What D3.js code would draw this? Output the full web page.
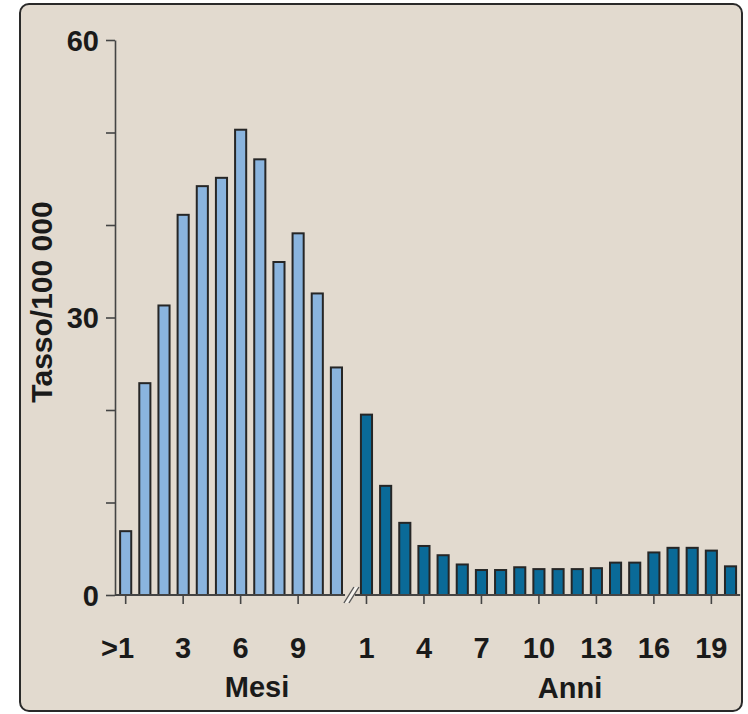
<!DOCTYPE html>
<html>
<head>
<meta charset="utf-8">
<script src="https://cdn.jsdelivr.net/npm/d3@7"></script>
<style>
  html, body { margin: 0; padding: 0; background: #ffffff; }
  svg { display: block; }
  text { font-family: "Liberation Sans", Arial, Helvetica, sans-serif; font-weight: bold; fill: #1a1a1a; }
</style>
</head>
<body>
<svg id="chart" width="748" height="714"></svg>
<script>
// ---- Data ----
const monthCategories = [0, 1, 2, 3, 4, 5, 6, 7, 8, 9, 10, 11];
const monthValues = [6.9, 22.9, 31.3, 41.1, 44.2, 45.1, 50.3, 47.1, 36.0, 39.1, 32.6, 24.6];
const monthTickValues = [0, 3, 6, 9];
const monthTickLabels = [">1", "3", "6", "9"];

const yearCategories = [1, 2, 3, 4, 5, 6, 7, 8, 9, 10, 11, 12, 13, 14, 15, 16, 17, 18, 19, 20];
const yearValues = [19.5, 11.8, 7.8, 5.3, 4.3, 3.3, 2.7, 2.7, 3.0, 2.8, 2.8, 2.8, 2.9, 3.5, 3.5, 4.6, 5.1, 5.1, 4.8, 3.1];
const yearTickValues = [1, 4, 7, 10, 13, 16, 19];
const yearTickLabels = ["1", "4", "7", "10", "13", "16", "19"];

const yTickValues = [0, 10, 20, 30, 40, 50, 60];
const yTickLabels = ["0", "", "", "30", "", "", "60"];

const yTitle = "Tasso/100 000";
const monthTitle = "Mesi";
const yearTitle = "Anni";

// ---- Layout ----
const svg = d3.select("#chart");
const bg = "#e2dacf";
const axisColor = "#444";
const fontSize = 29;

svg.append("rect")
  .attr("x", 20).attr("y", 4).attr("width", 722).attr("height", 707)
  .attr("rx", 9).attr("ry", 9)
  .attr("fill", bg).attr("stroke", "#2a2a2a").attr("stroke-width", 2);

const y = d3.scaleLinear().domain([0, 60]).range([595, 40]);
const xAxisX = 115;

const step = 19.16;
const xM = d3.scaleBand().domain(monthCategories)
  .range([116.1, 116.1 + monthCategories.length * step])
  .paddingInner(0.42).paddingOuter(0.21);
const xY = d3.scaleBand().domain(yearCategories)
  .range([356.9, 356.9 + yearCategories.length * step])
  .paddingInner(0.42).paddingOuter(0.21);

// Bars
svg.append("g").selectAll("rect")
  .data(monthCategories.map((c, i) => ({c, v: monthValues[i]})))
  .join("rect")
  .attr("x", d => xM(d.c))
  .attr("width", xM.bandwidth())
  .attr("y", d => y(d.v))
  .attr("height", d => y(0) - y(d.v))
  .attr("fill", "#8ab4de")
  .attr("stroke", "#262626").attr("stroke-width", 2);

svg.append("g").selectAll("rect")
  .data(yearCategories.map((c, i) => ({c, v: yearValues[i]})))
  .join("rect")
  .attr("x", d => xY(d.c))
  .attr("width", xY.bandwidth())
  .attr("y", d => y(d.v))
  .attr("height", d => y(0) - y(d.v))
  .attr("fill", "#0a6a98")
  .attr("stroke", "#262626").attr("stroke-width", 2);

// Y axis
const yAxis = d3.axisLeft(y).tickValues(yTickValues)
  .tickFormat((d, i) => yTickLabels[i]).tickSize(9).tickSizeOuter(0).tickPadding(7);
const gy = svg.append("g").attr("transform", `translate(${xAxisX},0)`).call(yAxis);
gy.select(".domain").attr("stroke", axisColor).attr("stroke-width", 1.6);
gy.selectAll(".tick line").attr("stroke", axisColor).attr("stroke-width", 1.6);
gy.selectAll(".tick text")
  .attr("font-size", fontSize).attr("font-family", null).attr("fill", "#1a1a1a")
  .attr("dy", "0.36em");

// X axes (months and years), with break
const base = y(0);
const mEnd = xM.range()[1];
const yStart = xY.range()[0];
svg.append("line").attr("x1", xAxisX).attr("x2", mEnd - 1).attr("y1", base).attr("y2", base)
  .attr("stroke", axisColor).attr("stroke-width", 1.8);
svg.append("line").attr("x1", yStart - 2).attr("x2", xY.range()[1]).attr("y1", base).attr("y2", base)
  .attr("stroke", axisColor).attr("stroke-width", 1.8);

// break marks
const bx = (mEnd + yStart) / 2;
svg.append("polygon")
  .attr("points", [[bx - 7, base + 8], [bx - 2, base + 8], [bx + 7, base - 8], [bx + 2, base - 8]].map(p => p.join(",")).join(" "))
  .attr("fill", "#f4f1ec");
[-2.5, 2.5].forEach(o => {
  svg.append("line")
    .attr("x1", bx - 5 + o).attr("y1", base + 8)
    .attr("x2", bx + 5 + o).attr("y2", base - 8)
    .attr("stroke", "#555").attr("stroke-width", 1.4);
});

function bottomTicks(scale, values, labels) {
  const ax = d3.axisBottom(scale).tickValues(values)
    .tickFormat((d, i) => labels[i]).tickSize(9).tickSizeOuter(0).tickPadding(33);
  const g = svg.append("g").attr("transform", `translate(0,${base})`).call(ax);
  g.select(".domain").remove();
  g.selectAll(".tick line").attr("stroke", axisColor).attr("stroke-width", 1.6);
  g.selectAll(".tick text")
    .attr("font-size", fontSize).attr("font-family", null).attr("fill", "#1a1a1a")
    .attr("dy", "0.71em")
    .each(function(d, i) {
      const t = labels[i];
      if (t.startsWith(">")) {
        d3.select(this).attr("text-anchor", "end").attr("x", 8.5);
      }
    });
  return g;
}
bottomTicks(xM, monthTickValues, monthTickLabels);
bottomTicks(xY, yearTickValues, yearTickLabels);

// Titles
svg.append("text").attr("x", 257).attr("y", 697).attr("text-anchor", "middle")
  .attr("font-size", fontSize).text(monthTitle);
svg.append("text").attr("x", 570).attr("y", 698).attr("text-anchor", "middle")
  .attr("font-size", fontSize).text(yearTitle);
svg.append("text")
  .attr("transform", "translate(52,302) rotate(-90)")
  .attr("text-anchor", "middle")
  .attr("font-size", 30).text(yTitle);
</script>
</body>
</html>
